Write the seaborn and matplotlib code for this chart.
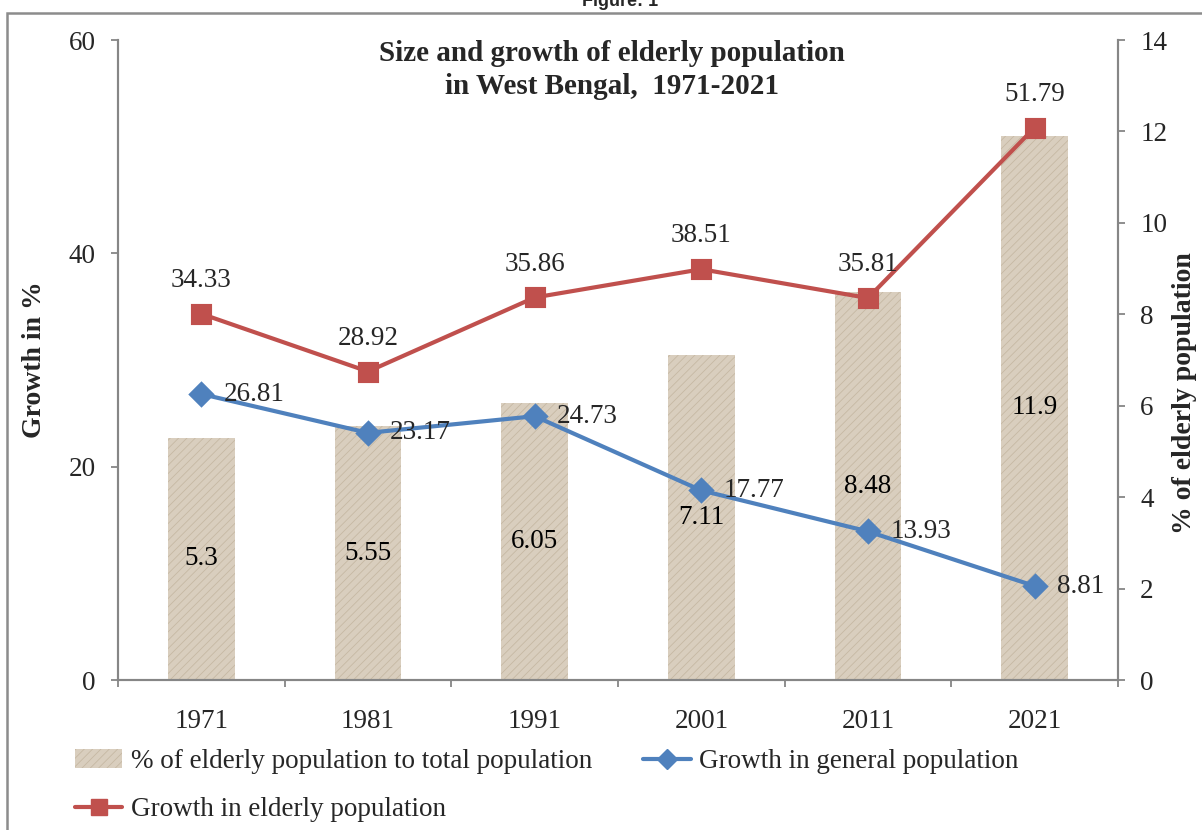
import matplotlib
matplotlib.use("Agg")
import matplotlib.pyplot as plt
import matplotlib.patches as mpatches
from matplotlib.lines import Line2D
import seaborn as sns
import numpy as np
import pandas as pd

years = ["1971", "1981", "1991", "2001", "2011", "2021"]
pct_elderly = [5.3, 5.55, 6.05, 7.11, 8.48, 11.9]
growth_general = [26.81, 23.17, 24.73, 17.77, 13.93, 8.81]
growth_elderly = [34.33, 28.92, 35.86, 38.51, 35.81, 51.79]
left_ticks = [0, 20, 40, 60]
right_ticks = [0, 2, 4, 6, 8, 10, 12, 14]

df = pd.DataFrame({"year": years, "pct": pct_elderly,
                   "gen": growth_general, "eld": growth_elderly})

sns.set_theme(style="white")
plt.rcParams["font.family"] = ["Liberation Serif", "DejaVu Serif"]
plt.rcParams["hatch.linewidth"] = 0.6

RED = "#C0504D"
BLUE = "#4F81BD"
GRAY = "#868686"
BAR = "#D9CEBE"
HATCH = "#C6B8A3"
FS = 19.5

fig = plt.figure(figsize=(12.02, 8.30), dpi=100)
ax = fig.add_axes([118/1202, 150/830, 1000/1202, 640/830])
ax2 = ax.twinx()

# bars (right scale) on ax
sns.barplot(data=df, x="year", y="pct", ax=ax, color=BAR, width=0.4,
            saturation=1, hatch="////")
for p in ax.patches:
    p.set_edgecolor(HATCH)
    p.set_linewidth(0)
for c in ax.containers:
    ax.bar_label(c, labels=[f"{v:g}" for v in pct_elderly], label_type="center",
                 fontsize=FS, color="black")

# lines (left scale) on ax2
sns.pointplot(data=df, x="year", y="eld", ax=ax2, color=RED, markers="s",
              markersize=13, linewidth=3, errorbar=None)
sns.pointplot(data=df, x="year", y="gen", ax=ax2, color=BLUE, markers="D",
              markersize=11, linewidth=3, errorbar=None)
for i, v in enumerate(growth_elderly):
    ax2.annotate(f"{v:g}", (i, v), xytext=(0, 24), textcoords="offset points",
                 ha="center", va="center", fontsize=FS)
for i, v in enumerate(growth_general):
    ax2.annotate(f"{v:g}", (i, v), xytext=(16, 0), textcoords="offset points",
                 ha="left", va="center", fontsize=FS)

ax.set_xlim(-0.5, 5.5)
ax.set_ylim(0, 14)
ax2.set_ylim(0, 60)
ax.set_yticks(right_ticks)
ax2.set_yticks(left_ticks)
ax.yaxis.tick_right()
ax.yaxis.set_label_position("right")
ax2.yaxis.tick_left()
ax2.yaxis.set_label_position("left")

ax.set_xlabel("")
ax2.set_xlabel("")
ax.set_ylabel("% of elderly population", fontsize=20, fontweight="bold")
ax2.set_ylabel("Growth in %", fontsize=20, fontweight="bold")
ax.yaxis.set_label_coords(1.054, 0.448)
ax2.yaxis.set_label_coords(-0.071, 0.5)

for a in (ax, ax2):
    a.spines["top"].set_visible(False)
    for s in ("left", "right", "bottom"):
        a.spines[s].set_color(GRAY)
        a.spines[s].set_linewidth(1.5)
    a.grid(False)

ax.tick_params(axis="y", which="major", direction="out", length=5, width=1.3,
               color=GRAY, labelsize=FS, pad=11, right=True, left=False)
ax2.tick_params(axis="y", which="major", direction="out", length=5, width=1.3,
                color=GRAY, labelsize=FS, pad=11, left=True, right=False)
ax.set_xticks(range(len(years)))
ax.set_xticklabels(years)
ax.set_xticks(np.arange(-0.5, 6, 1), minor=True)
ax.tick_params(axis="x", which="major", length=0, labelsize=FS, pad=21)
ax.tick_params(axis="x", which="minor", direction="out", length=5, width=1.3,
               color=GRAY, bottom=True)
ax2.tick_params(axis="x", which="both", length=0, labelbottom=False)

ax.text(0.494, 1.0, "Size and growth of elderly population\nin West Bengal,  1971-2021",
        transform=ax.transAxes, ha="center", va="top", fontsize=21,
        fontweight="bold", linespacing=1.28)

# legend
h_bar = mpatches.Patch(facecolor=BAR, edgecolor=HATCH, linewidth=0, hatch="////")
h_red = Line2D([], [], color=RED, lw=3, marker="s", markersize=12)
h_blue = Line2D([], [], color=BLUE, lw=3, marker="D", markersize=10)
fig.legend([h_bar, h_red, h_blue],
           ["% of elderly population to total population",
            "Growth in elderly population",
            "Growth in general population"],
           ncol=2, loc="upper left", bbox_to_anchor=(75/1202, 1 - 749/830),
           frameon=False, fontsize=FS, handlelength=1.75, handletextpad=0.3,
           columnspacing=1.9, labelspacing=0.85, borderpad=0, borderaxespad=0)

# frame and caption
fig.patches.append(mpatches.Rectangle((7/1202, -0.1), 1.2, 1 - 13/830 + 0.1,
                                      transform=fig.transFigure, fill=False,
                                      edgecolor="#8C8C8C", linewidth=1.8))
fig.text(620/1202, 1 - 2/830, "Figure: 1", ha="center", va="center",
         fontsize=13, fontweight="bold", family=["Liberation Sans", "DejaVu Sans"])

fig.savefig("out.png", dpi=100)
